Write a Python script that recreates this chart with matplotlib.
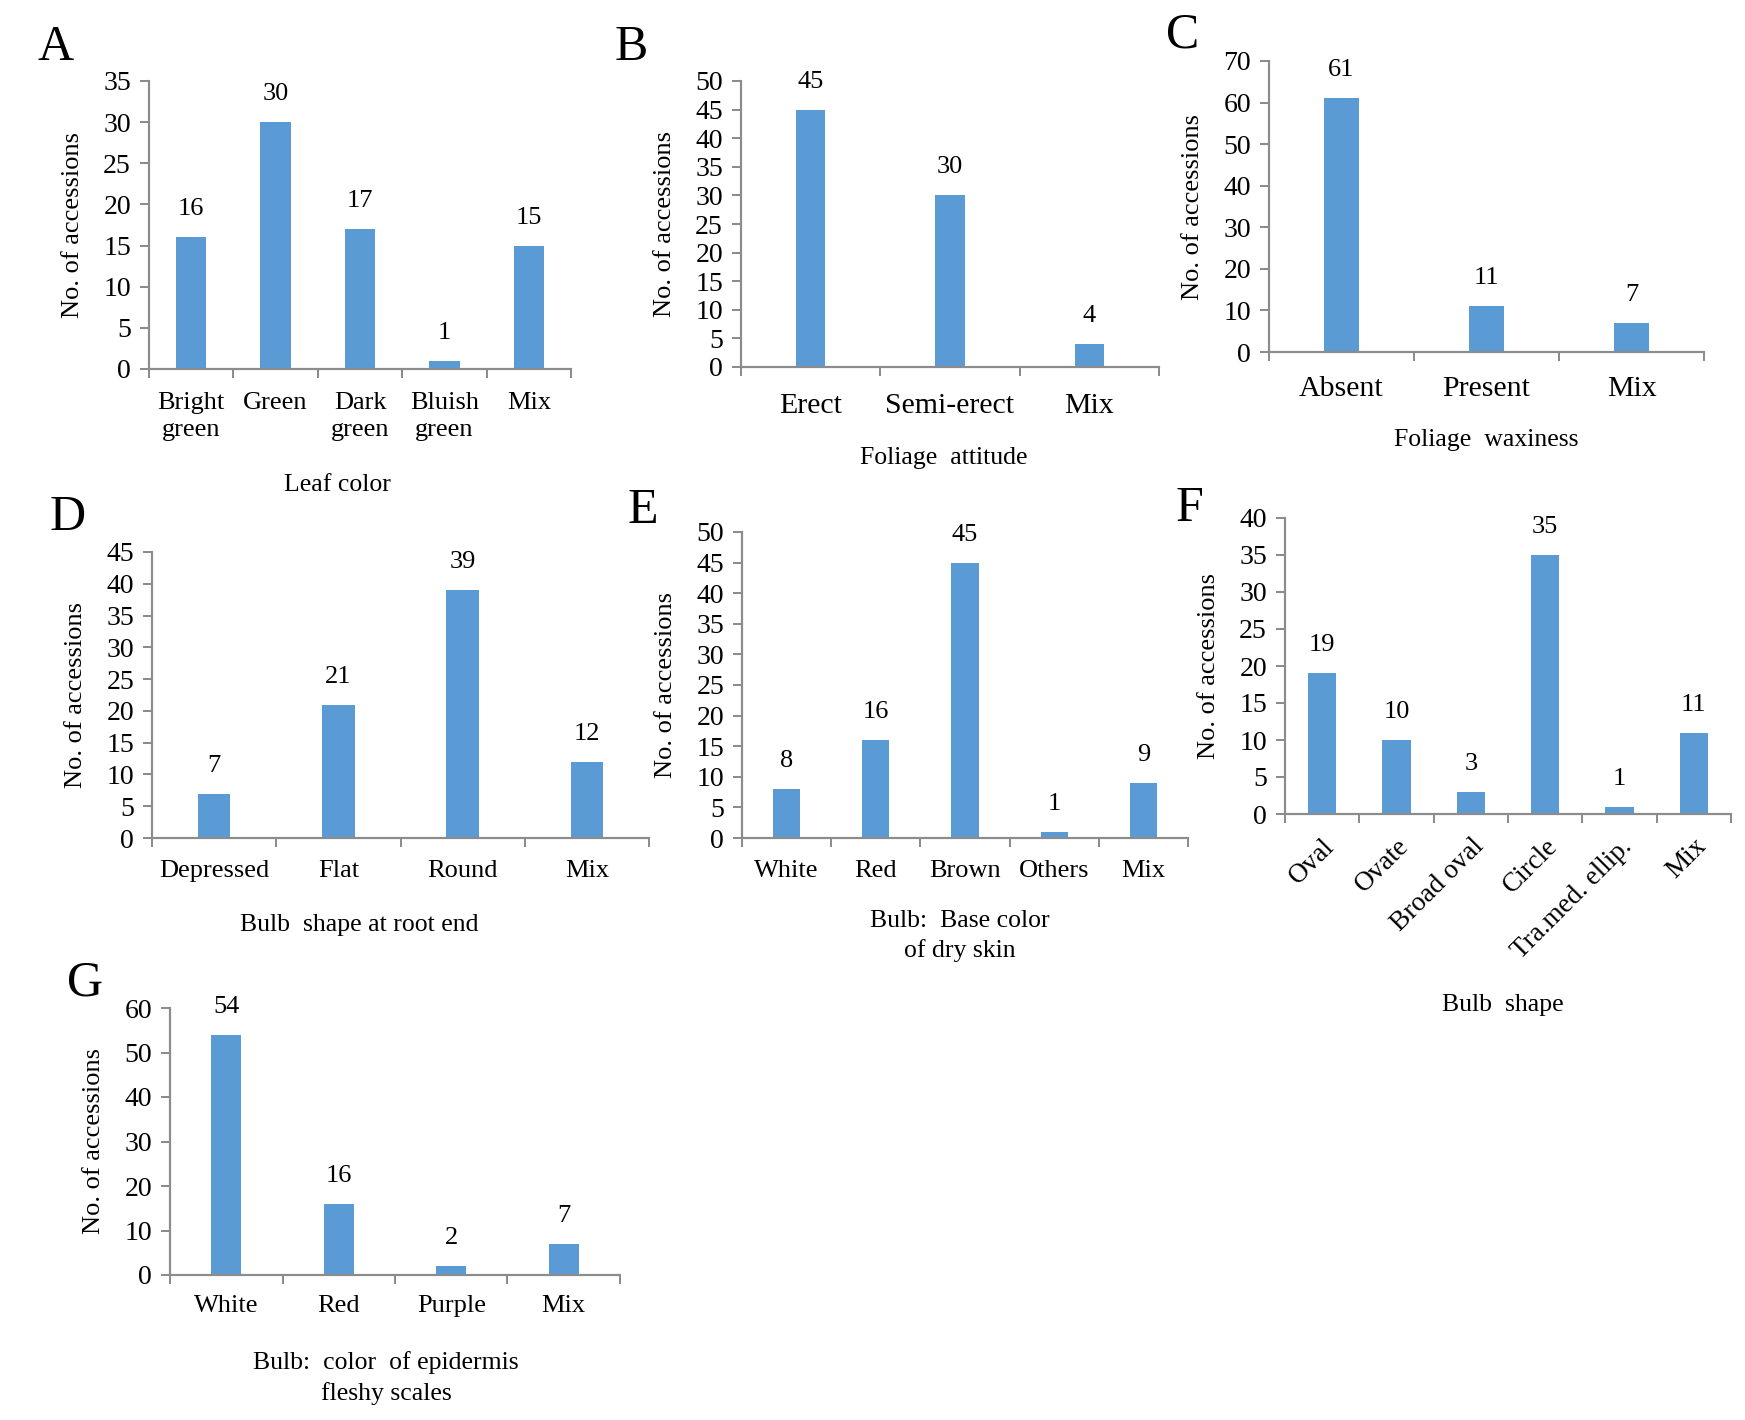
import numpy as np
import matplotlib
matplotlib.use("Agg")
import matplotlib.pyplot as plt
import matplotlib.transforms as mtransforms

plt.rcParams['font.family'] = ['Liberation Serif', 'DejaVu Serif']

# ---------------- data ----------------
A_cats = ["Bright\ngreen", "Green", "Dark\ngreen", "Bluish\ngreen", "Mix"]
A_vals = [16, 30, 17, 1, 15]
B_cats = ["Erect", "Semi-erect", "Mix"]
B_vals = [45, 30, 4]
C_cats = ["Absent", "Present", "Mix"]
C_vals = [61, 11, 7]
D_cats = ["Depressed", "Flat", "Round", "Mix"]
D_vals = [7, 21, 39, 12]
E_cats = ["White", "Red", "Brown", "Others", "Mix"]
E_vals = [8, 16, 45, 1, 9]
F_cats = ["Oval", "Ovate", "Broad oval", "Circle", "Tra.med. ellip.", "Mix"]
F_vals = [19, 10, 3, 35, 1, 11]
G_cats = ["White", "Red", "Purple", "Mix"]
G_vals = [54, 16, 2, 7]

A_xlabel = "Leaf color"
B_xlabel = "Foliage  attitude"
C_xlabel = "Foliage  waxiness"
D_xlabel = "Bulb  shape at root end"
E_xlabel = "Bulb:  Base color\nof dry skin"
F_xlabel = "Bulb  shape"
G_xlabel = "Bulb:  color  of epidermis\nfleshy scales"
ylabel = "No. of accessions"

# ---------------- style ----------------
W, H = 1745, 1420
BLUE = "#5B9BD5"
GRAY = "#8C8C8C"
fig = plt.figure(figsize=(W / 100, H / 100), dpi=100)


def px(v):
    return v * 0.72  # pixels -> points at dpi 100


def panel(letter, letter_xy, rect, cats, vals, ymax, ystep, width,
          cat_fs, cat_pad, xlabel, xlabel_xy, rot=False):
    l, t, r, b = rect
    ax = fig.add_axes([l / W, 1 - b / H, (r - l) / W, (b - t) / H])
    x = np.arange(len(cats))
    ax.bar(x, vals, width=width, color=BLUE, zorder=2)
    ax.set_xlim(-0.5, len(cats) - 0.5)
    ax.set_ylim(0, ymax)
    ax.set_yticks(np.arange(0, ymax + 0.1, ystep))
    ax.set_xticks(x)
    if rot:
        ax.set_xticklabels(cats, fontsize=cat_fs, rotation=45, ha='right',
                           va='top', rotation_mode='anchor')
        off = mtransforms.ScaledTranslation(8 / 100, 0, fig.dpi_scale_trans)
        for lab in ax.get_xticklabels():
            lab.set_transform(lab.get_transform() + off)
    else:
        ax.set_xticklabels(cats, fontsize=cat_fs, linespacing=1.3)
    ax.set_xticks(np.arange(-0.5, len(cats)), minor=True)
    ax.tick_params(axis='x', which='major', length=0, pad=cat_pad)
    ax.tick_params(axis='x', which='minor', length=px(9), width=px(2),
                   color=GRAY, direction='out')
    ax.tick_params(axis='y', which='major', length=px(9), width=px(2),
                   color=GRAY, direction='out', pad=px(9), labelsize=20)
    for s in ['top', 'right']:
        ax.spines[s].set_visible(False)
    for s in ['left', 'bottom']:
        ax.spines[s].set_color(GRAY)
        ax.spines[s].set_linewidth(px(2.2))
    for xi, v in zip(x, vals):
        ax.annotate(str(v), (xi, v), xytext=(0, px(28)),
                    textcoords='offset points', ha='center', va='center',
                    fontsize=19, annotation_clip=False)
    # panel letter
    fig.text(letter_xy[0] / W, 1 - letter_xy[1] / H, letter, fontsize=36,
             ha='left', va='baseline')
    # y label
    fig.text((l - 76) / W, 1 - (t + b) / 2 / H, ylabel, rotation=90,
             ha='center', va='center', fontsize=19)
    # x label
    fig.text(xlabel_xy[0] / W, 1 - xlabel_xy[1] / H, xlabel, ha='center',
             va='center', fontsize=18.5, linespacing=1.4)
    return ax


panel("A", (38, 60), (149, 81, 571, 369), A_cats, A_vals, 35, 5, 0.36,
      19, px(23), A_xlabel, (337, 485))
panel("B", (615, 60), (741, 81, 1159, 367), B_cats, B_vals, 50, 5, 0.21,
      21.5, px(26), B_xlabel, (944, 458))
panel("C", (1166, 48), (1269, 61, 1704, 352), C_cats, C_vals, 70, 10, 0.24,
      21.5, px(24), C_xlabel, (1486, 440))
panel("D", (50, 530), (152, 552, 649, 838), D_cats, D_vals, 45, 5, 0.26,
      19, px(22), D_xlabel, (359, 925))
panel("E", (628, 523), (742, 532, 1188, 838), E_cats, E_vals, 50, 5, 0.305,
      19, px(22), E_xlabel, (960, 936))
panel("F", (1176, 521), (1285, 518, 1731, 814), F_cats, F_vals, 40, 5, 0.38,
      19.5, px(20), F_xlabel, (1503, 1005), rot=True)
panel("G", (67, 996), (170, 1008, 620, 1275), G_cats, G_vals, 60, 10, 0.27,
      19, px(20), G_xlabel, (386, 1378))

fig.savefig("out.png", dpi=100, facecolor="white")
